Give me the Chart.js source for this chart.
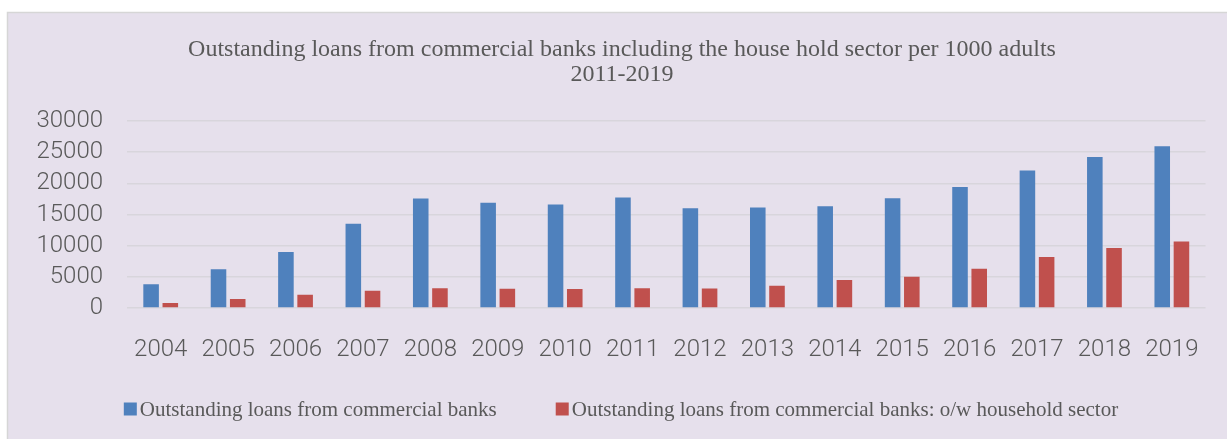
<!DOCTYPE html>
<html>
<head>
<meta charset="utf-8">
<script src="https://cdn.jsdelivr.net/npm/chart.js@4/dist/chart.umd.min.js"></script>
<style>
  html, body { margin: 0; padding: 0; background: #ffffff; }
  #wrap { width: 1227px; height: 439px; }
</style>
</head>
<body>
<div id="wrap"><canvas id="c" width="1227" height="439"></canvas></div>
<script>
// Years on the category axis
const years = ['2004', '2005', '2006', '2007', '2008', '2009', '2010', '2011',
               '2012', '2013', '2014', '2015', '2016', '2017', '2018', '2019'];

// Outstanding loans from commercial banks, per 1000 adults
const commercialLoans = [3800, 6200, 8970, 13500, 17550, 16870, 16600, 17730,
                         16020, 16130, 16340, 17620, 19430, 22050, 24240, 25950];

// Of which: household sector, per 1000 adults
const householdLoans = [800, 1440, 2130, 2770, 3150, 3100, 3040, 3150,
                        3120, 3580, 4480, 5020, 6300, 8170, 9610, 10680];

// Value axis ticks
const yTicks = [0, 5000, 10000, 15000, 20000, 25000, 30000];

const titleLines = [
  'Outstanding loans from commercial banks including the house hold sector per 1000 adults',
  '2011-2019'
];
const seriesNames = [
  'Outstanding loans from commercial banks',
  'Outstanding loans from commercial banks: o/w household sector'
];

const textGray = '#595959';
const gridGray = '#d8d5dc';
const serif = '"Liberation Serif", "Times New Roman", serif';

// Paints the white page and the lilac chart panel behind everything
const panelBackground = {
  id: 'panelBackground',
  beforeDraw(chart) {
    const ctx = chart.ctx;
    ctx.save();
    ctx.fillStyle = '#ffffff';
    ctx.fillRect(0, 0, chart.width, chart.height);
    ctx.fillStyle = '#e6e0ec';
    ctx.fillRect(7, 12, chart.width, chart.height);
    ctx.strokeStyle = '#d6d6d6';
    ctx.lineWidth = 1.5;
    ctx.beginPath();
    ctx.moveTo(7.5, chart.height + 2);
    ctx.lineTo(7.5, 12.5);
    ctx.lineTo(chart.width + 2, 12.5);
    ctx.stroke();
    ctx.restore();
  }
};

// Bottom legend: a small coloured square right next to each series name
const seriesKey = {
  id: 'seriesKey',
  afterDraw(chart, args, opts) {
    const ctx = chart.ctx;
    const sets = chart.data.datasets;
    ctx.save();
    ctx.font = `${opts.fontSize}px ${serif}`;
    ctx.textBaseline = 'middle';
    ctx.textAlign = 'left';
    const widths = sets.map(ds => ctx.measureText(ds.label).width);
    const itemW = widths.map(w => opts.box + opts.textGap + w);
    const total = itemW.reduce((a, b) => a + b, 0) + opts.itemGap * (sets.length - 1);
    let x = opts.centerX - total / 2;
    sets.forEach((ds, i) => {
      ctx.fillStyle = ds.backgroundColor;
      ctx.fillRect(x, opts.centerY - opts.box / 2, opts.box, opts.box);
      ctx.fillStyle = textGray;
      ctx.fillText(ds.label, x + opts.box + opts.textGap, opts.centerY + 1);
      x += itemW[i] + opts.itemGap;
    });
    ctx.restore();
  }
};

new Chart(document.getElementById('c'), {
  type: 'bar',
  data: {
    labels: years,
    datasets: [
      {
        label: seriesNames[0],
        data: commercialLoans,
        backgroundColor: '#4f81bd',
        categoryPercentage: 0.57,
        barPercentage: 0.81
      },
      {
        label: seriesNames[1],
        data: householdLoans,
        backgroundColor: '#c0504d',
        categoryPercentage: 0.57,
        barPercentage: 0.81
      }
    ]
  },
  options: {
    responsive: false,
    animation: false,
    devicePixelRatio: 1,
    layout: { padding: { left: 34, right: 17, top: 0, bottom: 59 } },
    plugins: {
      title: {
        display: true,
        text: titleLines,
        color: textGray,
        font: { family: serif, size: 24, weight: 'normal', lineHeight: 25 / 24 },
        padding: { top: 37.5, bottom: 33.5 }
      },
      legend: { display: false },
      tooltip: { enabled: false },
      seriesKey: { fontSize: 21, box: 13, textGap: 3, itemGap: 59, centerX: 621, centerY: 409 }
    },
    scales: {
      x: {
        grid: { display: false, drawTicks: false },
        border: { display: false },
        ticks: {
          color: textGray,
          font: { family: 'Roboto, "Noto Sans", sans-serif', size: 24, weight: '300' },
          padding: 28,
          maxRotation: 0,
          autoSkip: false
        },
        afterFit(scale) { scale.height = 72; }
      },
      y: {
        min: 0,
        max: 30000,
        afterBuildTicks(scale) { scale.ticks = yTicks.map(v => ({ value: v })); },
        grid: { color: gridGray, lineWidth: 1.6, drawTicks: false },
        border: { display: false },
        ticks: {
          color: textGray,
          font: { family: 'Roboto, "Noto Sans", sans-serif', size: 24, weight: '300' },
          padding: 24,
          autoSkip: false,
          callback: v => String(v)
        },
        afterFit(scale) { scale.width = 93; }
      }
    }
  },
  plugins: [panelBackground, seriesKey]
});
</script>
</body>
</html>
